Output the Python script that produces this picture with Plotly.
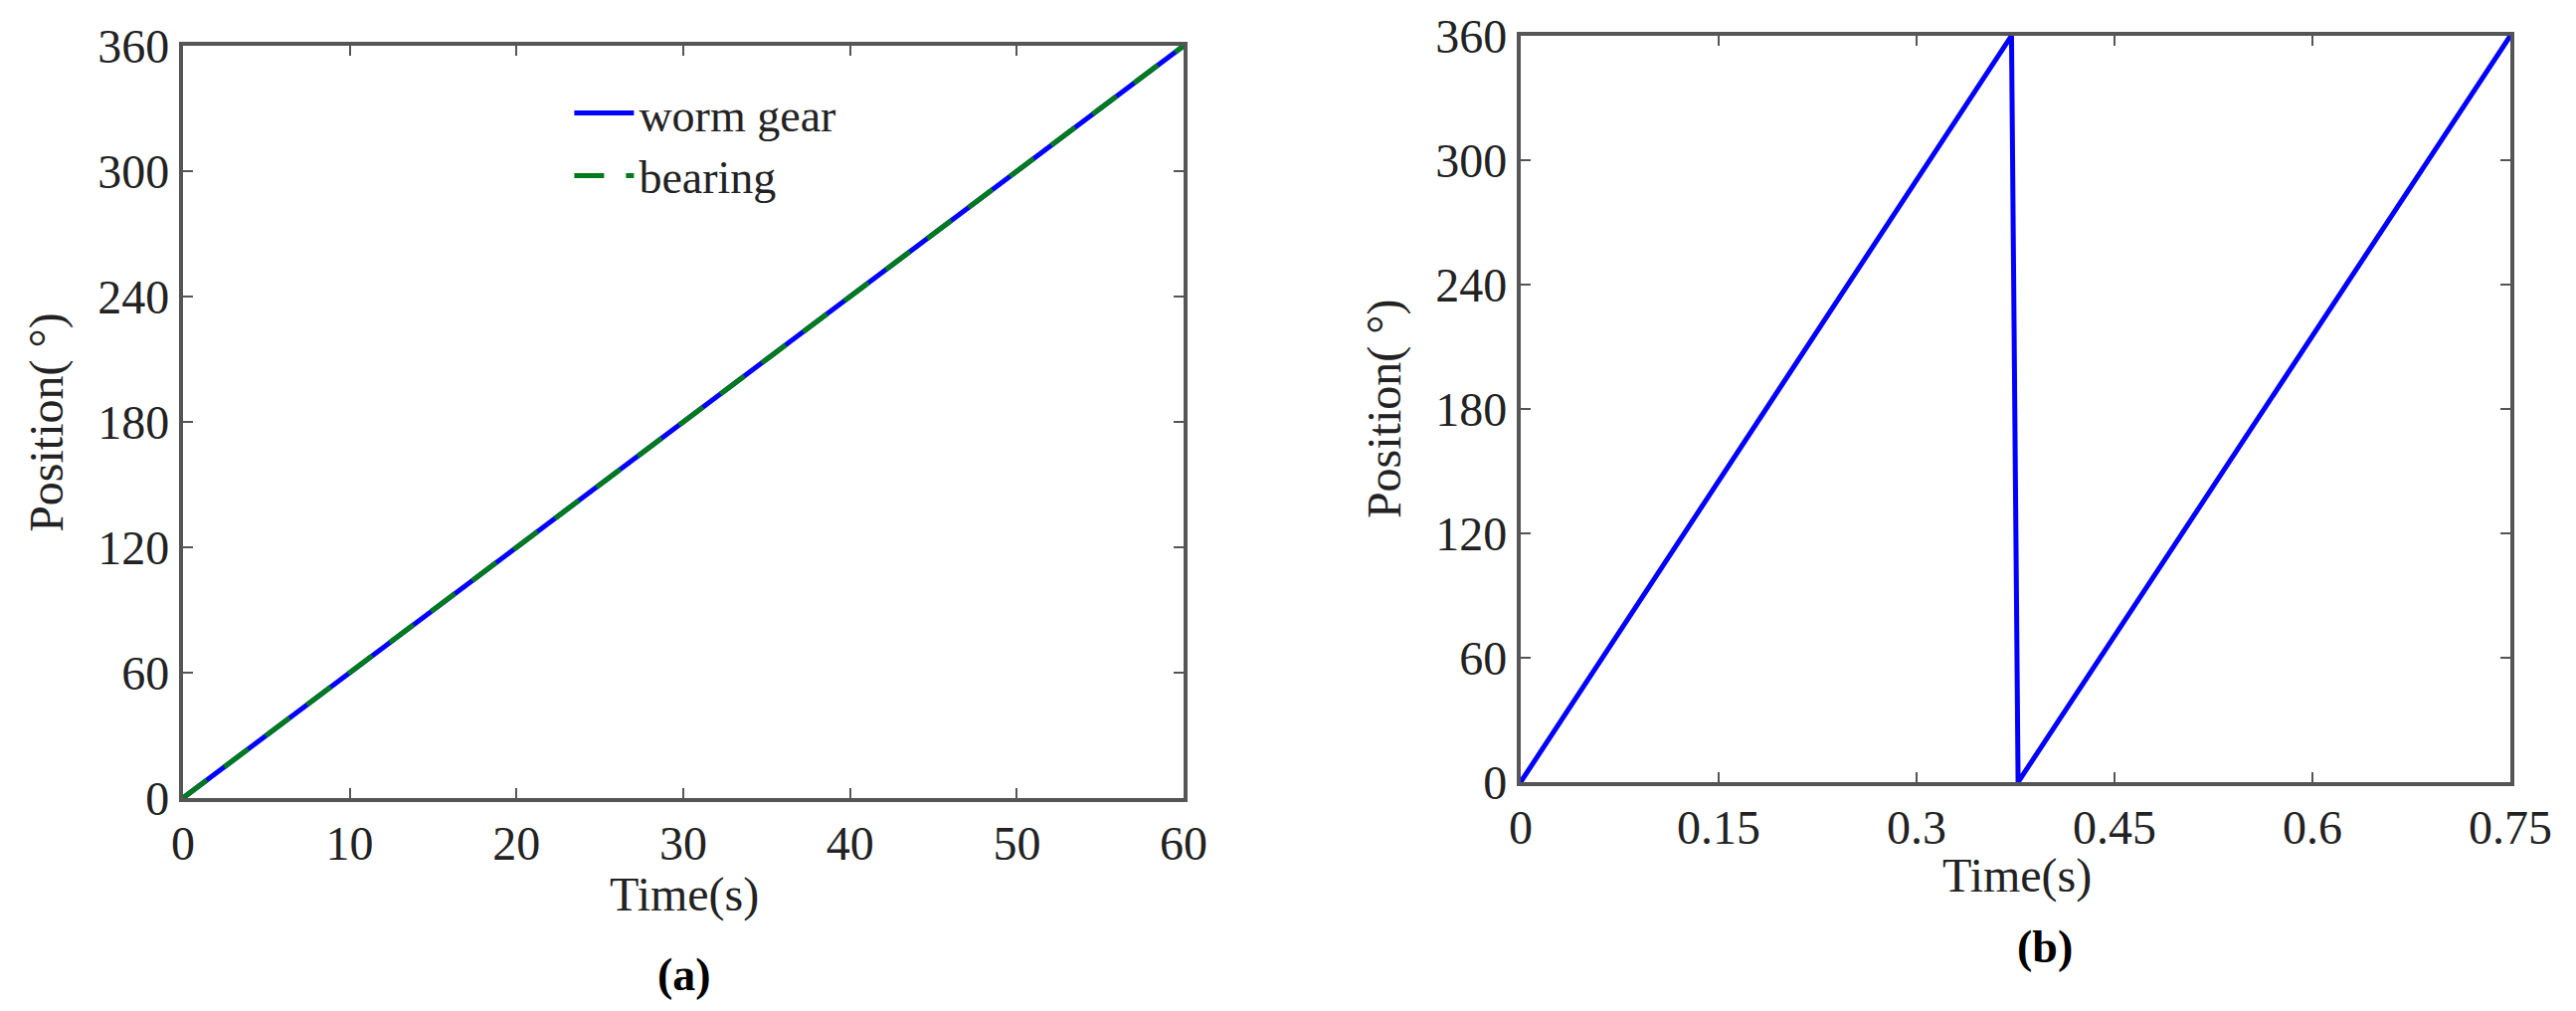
import plotly.graph_objects as go

# (a) worm gear and bearing position over one revolution
time_a = [0, 60]
worm_gear = [0, 360]
bearing = [0, 360]

# (b) position, two revolutions
time_b = [0, 0.372, 0.377, 0.75]
pos_b = [0, 360, 0, 360]

xticks_a = [0, 10, 20, 30, 40, 50, 60]
xticks_b = [0, 0.15, 0.3, 0.45, 0.6, 0.75]
xtext_b = ["0", "0.15", "0.3", "0.45", "0.6", "0.75"]
yticks = [0, 60, 120, 180, 240, 300, 360]

FONT = "Liberation Serif"
AX = "#555555"

fig = go.Figure()
fig.add_trace(go.Scatter(x=time_a, y=worm_gear, name="worm gear", mode="lines",
                         line=dict(color="#0000ff", width=5), xaxis="x", yaxis="y"))
fig.add_trace(go.Scatter(x=time_a, y=bearing, name="bearing", mode="lines",
                         line=dict(color="#007a1a", width=5, dash="30px,22px"), xaxis="x", yaxis="y"))
fig.add_trace(go.Scatter(x=time_b, y=pos_b, mode="lines", showlegend=False,
                         line=dict(color="#0000ff", width=5), xaxis="x2", yaxis="y2"))

axis_common = dict(showgrid=False, zeroline=False, showline=True, linecolor=AX, linewidth=4,
                   mirror="ticks", ticks="inside", ticklen=10, tickwidth=2, tickcolor=AX,
                   automargin=False, tickfont=dict(family=FONT, size=48, color="#222"))

fig.update_layout(
    width=2590, height=1016,
    margin=dict(l=0, r=0, t=0, b=0),
    paper_bgcolor="white", plot_bgcolor="white",
    font=dict(family=FONT, size=46, color="#222"),
    xaxis=dict(domain=[0.0710, 0.4595], range=[0, 60], tickvals=xticks_a, anchor="y", **axis_common),
    yaxis=dict(domain=[0.2106, 0.9547], range=[0, 360], tickvals=yticks, anchor="x", **axis_common),
    xaxis2=dict(domain=[0.5903, 0.9745], range=[0, 0.75], tickvals=xticks_b, ticktext=xtext_b,
                anchor="y2", **axis_common),
    yaxis2=dict(domain=[0.2264, 0.9646], range=[0, 360], tickvals=yticks, anchor="x2", **axis_common),
    legend=dict(x=0.221, y=0.924, xanchor="left", yanchor="top", bgcolor="rgba(0,0,0,0)",
                font=dict(family=FONT, size=46, color="#222"), itemwidth=60, tracegroupgap=0),
    annotations=[
        dict(text="Time(s)", x=0.2656, y=0.1152, xref="paper", yref="paper", showarrow=False,
             xanchor="center", yanchor="middle", font=dict(size=48)),
        dict(text="Time(s)", x=0.783, y=0.1339, xref="paper", yref="paper", showarrow=False,
             xanchor="center", yanchor="middle", font=dict(size=48)),
        dict(text="Position( °)", x=0.0181, y=0.5827, xref="paper", yref="paper", showarrow=False,
             textangle=-90, xanchor="center", yanchor="middle", font=dict(size=48)),
        dict(text="Position( °)", x=0.5375, y=0.5955, xref="paper", yref="paper", showarrow=False,
             textangle=-90, xanchor="center", yanchor="middle", font=dict(size=48)),
        dict(text="<b>(a)</b>", x=0.2656, y=0.0364, xref="paper", yref="paper", showarrow=False,
             xanchor="center", yanchor="middle", font=dict(size=46, color="#000")),
        dict(text="<b>(b)</b>", x=0.794, y=0.063, xref="paper", yref="paper", showarrow=False,
             xanchor="center", yanchor="middle", font=dict(size=46, color="#000")),
    ],
)

# drop the browser's default 8px body margin so the figure sits at the page origin
fig.write_html("out.html", config={"displayModeBar": False},
               post_script="document.body.style.margin='0';")
